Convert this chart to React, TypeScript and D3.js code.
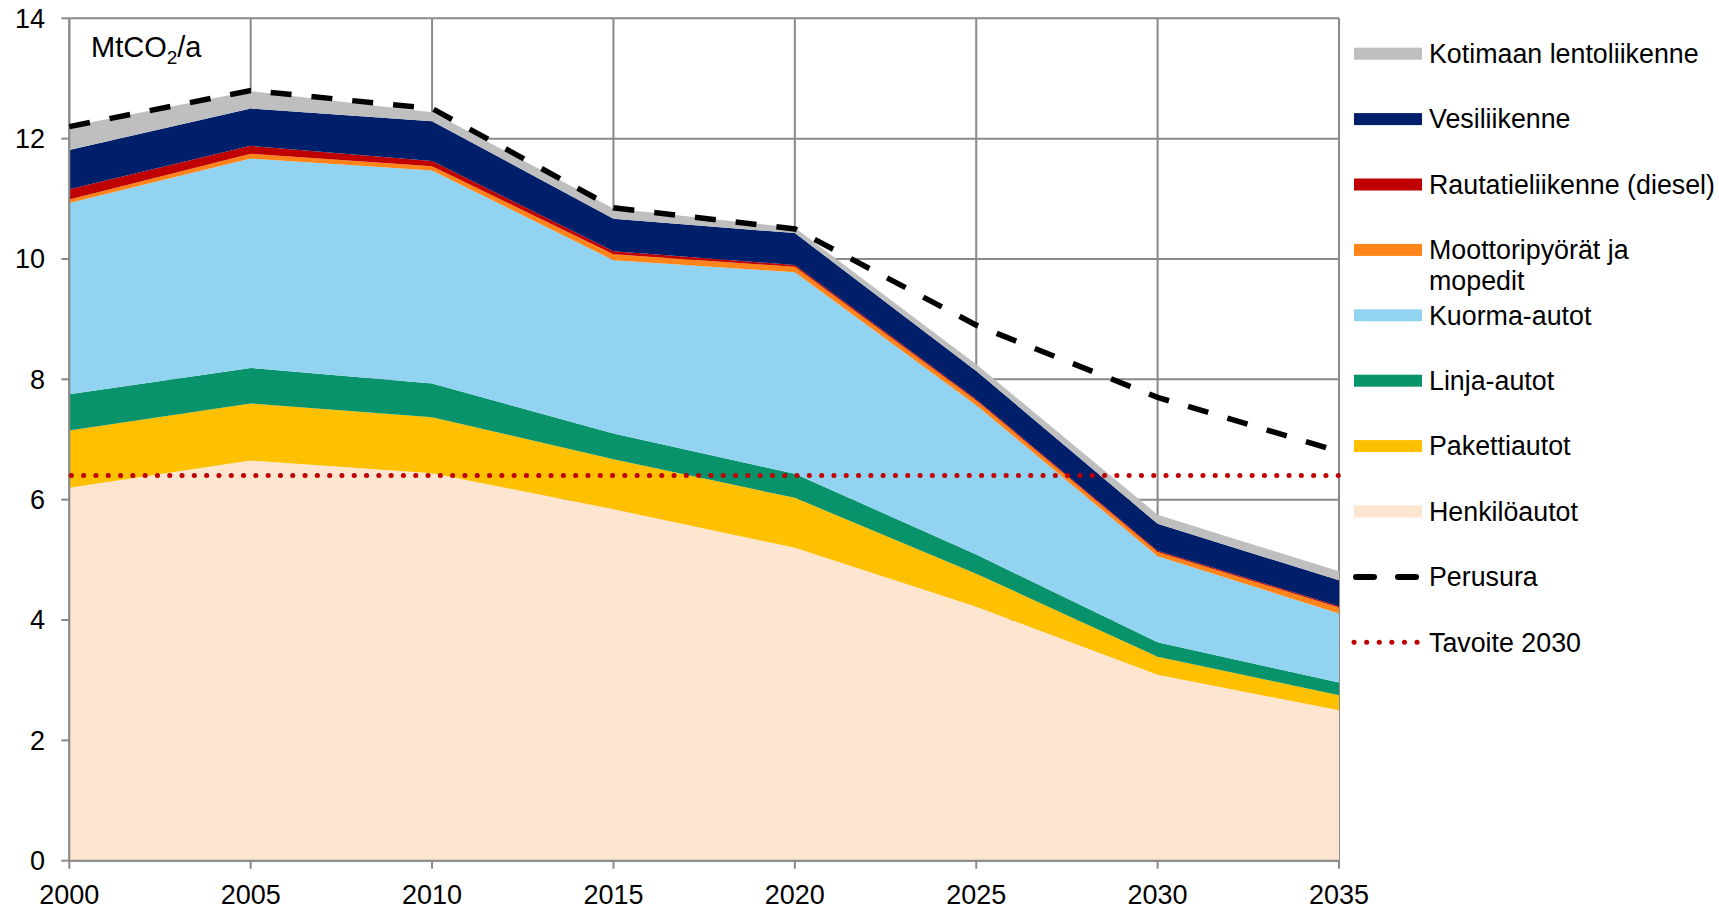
import React, { useEffect, useRef } from 'react';
import * as d3 from 'd3';

// emissions by transport mode, MtCO2/a
const years = [2000, 2005, 2010, 2015, 2020, 2025, 2030, 2035];
const henkiloautot = [6.2, 6.65, 6.44, 5.84, 5.2, 4.22, 3.09, 2.5];
const pakettiautot = [0.95, 0.95, 0.93, 0.83, 0.83, 0.55, 0.3, 0.25];
const linjaautot = [0.6, 0.59, 0.56, 0.43, 0.4, 0.32, 0.24, 0.21];
const kuormaautot = [3.18, 3.48, 3.54, 2.88, 3.35, 2.48, 1.43, 1.15];
const moottoripyorat = [0.06, 0.08, 0.07, 0.1, 0.09, 0.08, 0.07, 0.1];
const rautatie = [0.17, 0.13, 0.09, 0.05, 0.03, 0.02, 0.02, 0.02];
const vesiliikenne = [0.65, 0.62, 0.66, 0.54, 0.53, 0.47, 0.45, 0.43];
const lentoliikenne = [0.39, 0.29, 0.15, 0.17, 0.09, 0.11, 0.15, 0.15];
const perusura = [12.2, 12.8, 12.5, 10.85, 10.5, 8.9, 7.7, 6.8];
const tavoite2030 = 6.4;
const yTicks = [0, 2, 4, 6, 8, 10, 12, 14];

// bottom to top
const series = [
  { key: 'henkilo', name: 'Henkilöautot', values: henkiloautot, color: '#FDE5CF' },
  { key: 'paketti', name: 'Pakettiautot', values: pakettiautot, color: '#FFC000' },
  { key: 'linja', name: 'Linja-autot', values: linjaautot, color: '#08936B' },
  { key: 'kuorma', name: 'Kuorma-autot', values: kuormaautot, color: '#93D3F2' },
  { key: 'moottori', name: 'Moottoripyörät ja|mopedit', values: moottoripyorat, color: '#FF8419' },
  { key: 'rautatie', name: 'Rautatieliikenne (diesel)', values: rautatie, color: '#C00000' },
  { key: 'vesi', name: 'Vesiliikenne', values: vesiliikenne, color: '#001F6A' },
  { key: 'lento', name: 'Kotimaan lentoliikenne', values: lentoliikenne, color: '#BFBFBF' },
];

const FONT = '"Liberation Sans", Arial, sans-serif';
const GRID = '#8A8A8A';

function Chart() {
  const ref = useRef(null);

  useEffect(() => {
    const svg = d3.select(ref.current);
    svg.selectAll('*').remove();

    const width = 1719, height = 908;
    const left = 69.3, right = 1339, top = 18.3, bottom = 860.7;

    svg.attr('width', width).attr('height', height).style('font-family', FONT);

    const x = d3.scaleLinear().domain([2000, 2035]).range([left, right]);
    const y = d3.scaleLinear().domain([0, 14]).range([bottom, top]);

    // gridlines
    const grid = svg.append('g').attr('stroke', GRID).attr('stroke-width', 2);
    yTicks.forEach((t) => {
      grid.append('line').attr('x1', left).attr('x2', right).attr('y1', y(t)).attr('y2', y(t));
    });
    years.forEach((yr) => {
      grid.append('line').attr('x1', x(yr)).attr('x2', x(yr)).attr('y1', top).attr('y2', bottom);
    });

    // stacked areas
    const table = years.map((yr, i) => {
      const row = { year: yr };
      series.forEach((s) => { row[s.key] = s.values[i]; });
      return row;
    });
    const stack = d3.stack().keys(series.map((s) => s.key));
    const layers = stack(table);
    const area = d3.area()
      .x((d) => x(d.data.year))
      .y0((d) => y(d[0]))
      .y1((d) => y(d[1]));

    svg.append('g')
      .selectAll('path')
      .data(layers)
      .enter()
      .append('path')
      .attr('d', area)
      .attr('fill', (_, i) => series[i].color);

    // axes
    const axisG = svg.append('g').attr('stroke', GRID).attr('stroke-width', 2);
    axisG.append('line').attr('x1', left).attr('x2', left).attr('y1', top).attr('y2', bottom);
    axisG.append('line').attr('x1', left).attr('x2', right).attr('y1', bottom).attr('y2', bottom);
    yTicks.forEach((t) => {
      axisG.append('line').attr('x1', left - 8).attr('x2', left).attr('y1', y(t)).attr('y2', y(t));
    });
    years.forEach((yr) => {
      axisG.append('line').attr('x1', x(yr)).attr('x2', x(yr)).attr('y1', bottom).attr('y2', bottom + 8);
    });

    svg.append('g')
      .selectAll('text')
      .data(yTicks)
      .enter()
      .append('text')
      .attr('x', 45)
      .attr('y', (d) => y(d))
      .attr('dy', '0.35em')
      .attr('text-anchor', 'end')
      .attr('font-size', 27)
      .attr('fill', '#000')
      .text((d) => d);

    svg.append('g')
      .selectAll('text')
      .data(years)
      .enter()
      .append('text')
      .attr('x', (d) => x(d))
      .attr('y', 903.5)
      .attr('text-anchor', 'middle')
      .attr('font-size', 27)
      .attr('fill', '#000')
      .text((d) => d);

    // target line
    svg.append('line')
      .attr('x1', x(2000))
      .attr('x2', x(2035))
      .attr('y1', y(tavoite2030))
      .attr('y2', y(tavoite2030))
      .attr('stroke', '#C00000')
      .attr('stroke-width', 5)
      .attr('stroke-linecap', 'round')
      .attr('stroke-dasharray', '0.1 12.2')
      .attr('transform', 'translate(2,0)');

    // baseline scenario
    const line = d3.line().x((_, i) => x(years[i])).y((d) => y(d));
    svg.append('path')
      .datum(perusura)
      .attr('d', line)
      .attr('fill', 'none')
      .attr('stroke', '#000')
      .attr('stroke-width', 5.5)
      .attr('stroke-dasharray', '21 20');

    // unit label
    const unit = svg.append('text')
      .attr('x', 91)
      .attr('y', 57)
      .attr('font-size', 29)
      .attr('fill', '#000');
    unit.append('tspan').text('MtCO');
    unit.append('tspan').attr('font-size', 19).attr('dy', 7).text('2');
    unit.append('tspan').attr('dy', -7).text('/a');

    // legend
    const rowY = (i) => 53.7 + i * 65.4;
    const legend = svg.append('g').attr('font-size', 26.8).attr('fill', '#000');
    const areaItems = series.slice().reverse();
    areaItems.forEach((s, i) => {
      const cy = rowY(i);
      legend.append('rect')
        .attr('x', 1354).attr('y', cy - 6).attr('width', 68).attr('height', 12)
        .attr('fill', s.color);
      const lines = s.name.split('|');
      lines.forEach((ln, j) => {
        legend.append('text')
          .attr('x', 1429).attr('y', cy + j * 31).attr('dy', '0.35em')
          .text(ln);
      });
    });
    const nA = areaItems.length;
    legend.append('line')
      .attr('x1', 1356).attr('x2', 1419).attr('y1', rowY(nA)).attr('y2', rowY(nA))
      .attr('stroke', '#000').attr('stroke-width', 6)
      .attr('stroke-linecap', 'round')
      .attr('stroke-dasharray', '18 24');
    legend.append('text').attr('x', 1429).attr('y', rowY(nA)).attr('dy', '0.35em').text('Perusura');
    legend.append('line')
      .attr('x1', 1354).attr('x2', 1420).attr('y1', rowY(nA + 1)).attr('y2', rowY(nA + 1))
      .attr('stroke', '#C00000').attr('stroke-width', 5)
      .attr('stroke-linecap', 'round')
      .attr('stroke-dasharray', '0.1 12.5');
    legend.append('text').attr('x', 1429).attr('y', rowY(nA + 1)).attr('dy', '0.35em').text('Tavoite 2030');
  }, []);

  return <svg ref={ref}></svg>;
}

export default function App() {
  return (
    <div style={{ position: 'absolute', left: 0, top: 0, background: '#fff' }}>
      <Chart />
    </div>
  );
}
